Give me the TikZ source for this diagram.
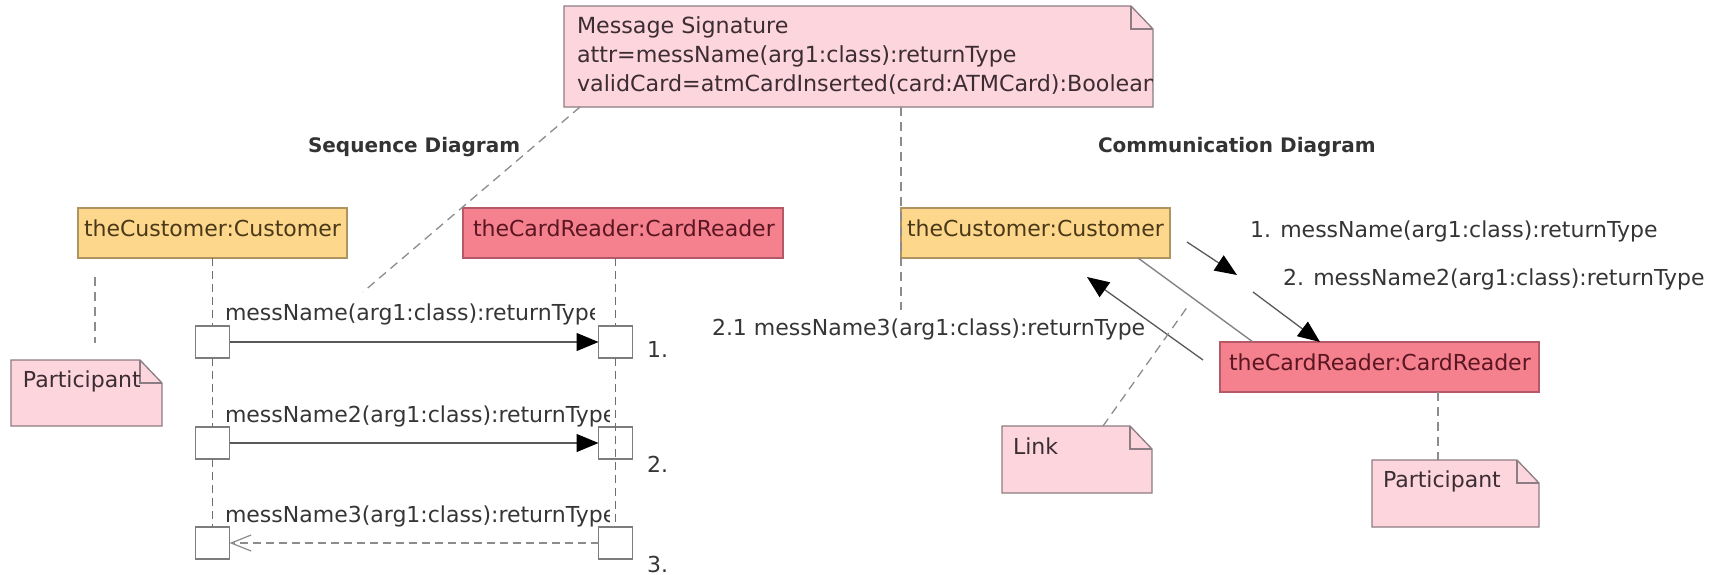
\documentclass[tikz,border=0pt]{standalone}
\usepackage{fontspec}
\setmainfont{DejaVu Sans}
\usetikzlibrary{arrows.meta,calc}

\definecolor{custfill}{HTML}{FCD78C}
\definecolor{custline}{HTML}{B09460}
\definecolor{custtext}{HTML}{4A3818}
\definecolor{readfill}{HTML}{F4818D}
\definecolor{readline}{HTML}{B35A66}
\definecolor{readtext}{HTML}{5A1622}
\definecolor{notefill}{HTML}{FDD5DC}
\definecolor{noteline}{HTML}{8C7C84}
\definecolor{notetext}{HTML}{3C2C34}
\definecolor{labeltext}{HTML}{353535}
\definecolor{wire}{HTML}{6E6E6E}
\definecolor{dashwire}{HTML}{8C8C8C}

% folded-corner outline around an empty frame node
\newcommand\foldnote[1]{%
  \filldraw[fill=notefill, draw=noteline, line width=1.3pt]
    (#1.north west) -- ([xshift=-22pt]#1.north east)
    -- ([yshift=-23pt]#1.north east) -- (#1.south east)
    -- (#1.south west) -- cycle;
  \draw[draw=noteline, line width=1.3pt]
    ([xshift=-22pt]#1.north east) |- ([yshift=-23pt]#1.north east);
}

\begin{document}
\begin{tikzpicture}[x=1pt, y=-1pt,
  every node/.style={inner sep=0pt, outer sep=0pt},
  txt/.style={font=\fontsize{22}{29}\selectfont, anchor=base west, text=labeltext},
  head/.style={font=\fontsize{20}{24}\selectfont\bfseries, anchor=base west, text=black!80},
  custbox/.style={draw=custline, fill=custfill, line width=1.3pt, anchor=north west, minimum height=50pt},
  readbox/.style={draw=readline, fill=readfill, line width=1.3pt, anchor=north west, minimum height=50pt},
  custlabel/.style={txt, text=custtext},
  readlabel/.style={txt, text=readtext},
  noteframe/.style={anchor=north west},
  notelabel/.style={txt, text=notetext},
  siglabel/.style={notelabel, font=\fontsize{22.2}{29}\selectfont},
  actbox/.style={draw=wire!90, fill=white, line width=1.2pt, minimum width=34pt, minimum height=32pt},
  lifeline/.style={draw=wire, line width=1.2pt, dash pattern=on 8pt off 5pt},
  notelink/.style={draw=dashwire, line width=1.3pt, dash pattern=on 9pt off 6pt},
  msg/.style={draw=black!65, line width=1.3pt, -{Triangle[length=22pt, width=18pt, fill=black, color=black]}},
  reply/.style={draw=dashwire, line width=1.3pt, dash pattern=on 8pt off 5pt, -{Straight Barb[length=20pt, width=16pt, line width=1.2pt]}},
  link/.style={draw=wire!85, line width=1.4pt},
]
\useasboundingbox (0,0) rectangle (1712,574);

% ---------------- message signature note ----------------
\node[noteframe, minimum width=589pt, minimum height=101pt] (sig) at (564,6) {};
\foldnote{sig}
\begin{scope}
  \clip (sig.north west) rectangle ([xshift=-1pt]sig.south east);
  \node[siglabel] (sig1) at (577,33) {Message Signature};
  \node[siglabel] (sig2) at (577,62) {attr=messName(arg1:class):returnType};
  \node[siglabel] (sig3) at (577,91) {validCard=atmCardInserted(card:ATMCard):Boolean};
\end{scope}

% ---------------- headings ----------------
\node[head] (seqhead) at (308,152) {Sequence Diagram};
\node[head] (comhead) at (1098,152) {Communication Diagram};

% ---------------- sequence diagram ----------------
\node[custbox, minimum width=269pt] (scust) at (78,208) {};
\node[custlabel] (scustt) at (84,236) {theCustomer:Customer};
\node[readbox, minimum width=320pt] (sread) at (463,208) {};
\node[readlabel] (sreadt) at (473,236) {theCardReader:CardReader};

% activation boxes
\node[actbox] (ca1) at (212.5,342) {};
\node[actbox] (ca2) at (212.5,443) {};
\node[actbox] (ca3) at (212.5,543) {};
\node[actbox] (ra1) at (615.5,342) {};
\node[actbox, fill=none] (ra2) at (615.5,443) {};
\node[actbox] (ra3) at (615.5,543) {};

% lifelines between the activation boxes
\draw[lifeline] (scust.south -| ca1.center) -- (ca1.north);
\draw[lifeline] (ca1.south) -- (ca2.north);
\draw[lifeline] (ca2.south) -- (ca3.north);
\draw[lifeline] (sread.south -| ra1.center) -- (ra1.north);
\draw[lifeline] (ra1.south) -- (ra3.north);

% participant note (left)
\coordinate (pl1) at (95,277);
\coordinate (pl2) at (95,343);
\draw[notelink] (pl1) -- (pl2);
\node[noteframe, minimum width=151pt, minimum height=66pt] (partl) at (11,360) {};
\foldnote{partl}
\node[notelabel] (partlt) at (23,387) {Participant};

% messages
\draw[msg] (ca1.east) -- (ra1.west);
\draw[msg] (ca2.east) -- (ra2.west);
\draw[reply] (ra3.west) -- (ca3.east);

\begin{scope}
  \clip (0,0) rectangle (594,574);
  \node[txt] (m1) at (225,320) {messName(arg1:class):returnType};
\end{scope}
\begin{scope}
  \clip (0,0) rectangle (609,574);
  \node[txt] (m2) at (225,422) {messName2(arg1:class):returnType};
  \node[txt] (m3) at (225,522) {messName3(arg1:class):returnType};
\end{scope}
\node[txt] (n1) at (647,357) {1.};
\node[txt] (n2) at (647,472) {2.};
\node[txt] (n3) at (647,572) {3.};

% note link to the first message
\coordinate (m1end) at (363,292);
\draw[notelink] ([xshift=16pt]sig.south west) -- (m1end);

% ---------------- communication diagram ----------------
\node[custbox, minimum width=269pt] (ccust) at (901,208) {};
\node[custlabel] (ccustt) at (907,236) {theCustomer:Customer};
\node[readbox, minimum width=319pt] (cread) at (1220,342) {};
\node[readlabel] (creadt) at (1229,370) {theCardReader:CardReader};

% the link
\draw[link] ([xshift=-32pt]ccust.south east) -- ([xshift=33pt]cread.north west);

% message arrows along the link
\coordinate (a1s) at (1187,242);
\coordinate (a1e) at (1237,275);
\coordinate (a2s) at (1253,292);
\coordinate (a2e) at (1320,342);
\coordinate (a3s) at (1203,360);
\coordinate (a3e) at (1087,277);
\draw[msg] (a1s) -- (a1e);
\draw[msg] (a2s) -- (a2e);
\draw[msg] (a3s) -- (a3e);

\node[txt] (c1) at (1250,237) {1. messName(arg1:class):returnType};
\node[txt] (c2) at (1283,285) {2. messName2(arg1:class):returnType};
\node[txt] (c3) at (712,335) {2.1 messName3(arg1:class):returnType};

% note link down to the communication message
\coordinate (c3top) at (901,310);
\draw[notelink] ([xshift=337pt]sig.south west) -- (c3top);

% link note
\node[noteframe, minimum width=150pt, minimum height=67pt] (lnote) at (1002,426) {};
\foldnote{lnote}
\node[notelabel] (lnotet) at (1013,454) {Link};
\coordinate (linkpt) at (1188,306);
\draw[notelink] ([xshift=101pt]lnote.north west) -- (linkpt);

% participant note (right)
\node[noteframe, minimum width=167pt, minimum height=67pt] (partr) at (1372,460) {};
\draw[notelink] ([xshift=218pt]cread.south west) -- ([xshift=66pt]partr.north west);
\foldnote{partr}
\node[notelabel] (partrt) at (1383,487) {Participant};
\end{tikzpicture}
\end{document}
